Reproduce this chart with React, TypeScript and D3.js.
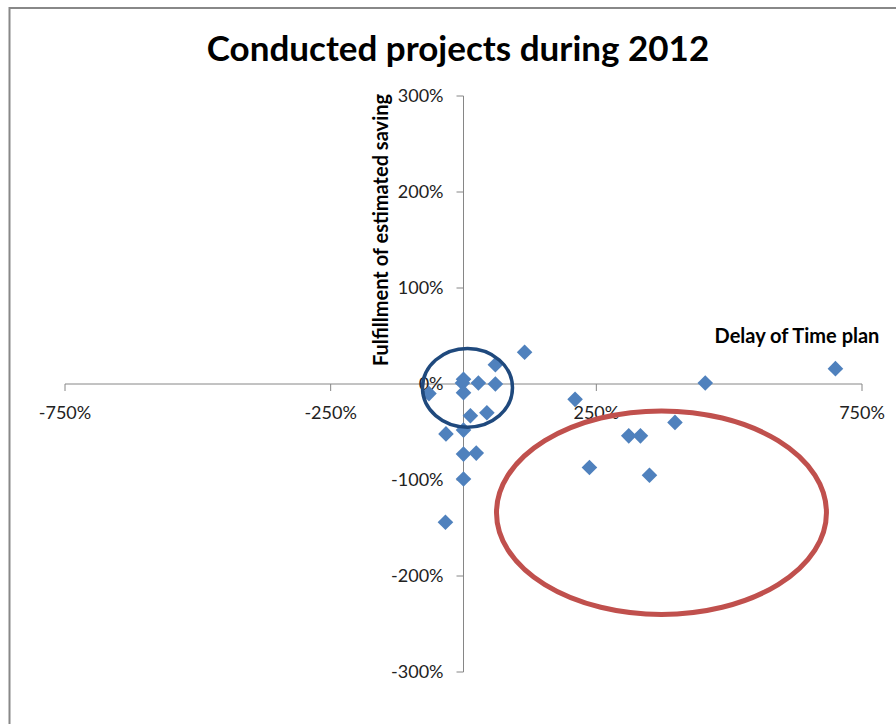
import React from "react";
import * as d3 from "d3";

// Project outcomes: delay of time plan (%) vs fulfillment of estimated saving (%)
const delayOfTimePlan = [115, 60, 0, -2, 28, 60, -65, 13, 44, -33, 0, 0, 24, 0, -34, 210, 455, 398, 311, 333, 237, 350, 700, 0];
const savingFulfillment = [33, 20, 5, 1, 1, 0, -10, -33, -30, -52, -48, -73, -72, -99, -144, -16, 1, -40, -54, -54, -87, -95, 16, -9];

const xTicks = [-750, -250, 250, 750];
const yTicks = [300, 200, 100, 0, -100, -200, -300];

// Highlight rings, in data units
const ringCx = [7.5, 372.6];
const ringCy = [-4, -134];
const ringRx = [84.7, 310.5];
const ringRy = [41, 106];
const ringColor = ["#1F497D", "#C0504D"];
const ringWidth = [3.5, 5];

const W = 896;
const H = 724;
const FONT = "Lato, 'Open Sans', sans-serif";

export default function App() {
  const x = d3.scaleLinear().domain([-750, 750]).range([65, 862]);
  const y = d3.scaleLinear().domain([-300, 300]).range([672, 96]);
  const x0 = x(0);
  const y0 = y(0);
  const axisColor = "#868686";
  const pct = (v: number) => `${v}%`;
  const diamond = d3.symbol().type(d3.symbolDiamond2).size(155);

  const points = delayOfTimePlan.map((d, i) => ({ dx: d, sy: savingFulfillment[i] }));

  return (
    <svg
      width={W}
      height={H}
      style={{ position: "absolute", left: 0, top: 0, background: "#fff" }}
      fontFamily={FONT}
    >
      <rect x={0} y={0} width={W} height={H} fill="#fff" />
      {/* chart frame */}
      <path d={`M9.5,${H} V8 H${W}`} fill="none" stroke="#888" strokeWidth={2} />

      <text x={458} y={61} textAnchor="middle" fontSize={35} fontWeight={700} fill="#000">
        Conducted projects during 2012
      </text>

      {/* x axis */}
      <line x1={x(-750)} x2={x(750)} y1={y0} y2={y0} stroke={axisColor} strokeWidth={1} />
      {xTicks.map((t) => (
        <g key={`xt${t}`}>
          <line x1={x(t)} x2={x(t)} y1={y0} y2={y0 + 7} stroke={axisColor} />
          <text x={x(t)} y={y0 + 35} textAnchor="middle" fontSize={18} fill="#222">
            {pct(t)}
          </text>
        </g>
      ))}

      {/* y axis */}
      <line x1={x0} x2={x0} y1={y(300)} y2={y(-300)} stroke={axisColor} strokeWidth={1} />
      {yTicks.map((t) => (
        <g key={`yt${t}`}>
          <line x1={x0 - 7} x2={x0} y1={y(t)} y2={y(t)} stroke={axisColor} />
          <text x={x0 - 20} y={y(t)} dy="0.35em" textAnchor="end" fontSize={18} fill="#222">
            {pct(t)}
          </text>
        </g>
      ))}

      <text
        transform={`translate(388,230) rotate(-90)`}
        textAnchor="middle"
        fontSize={20}
        fontWeight={700}
        fill="#000"
      >
        Fulfillment of estimated saving
      </text>
      <text x={797} y={343} textAnchor="middle" fontSize={20} fontWeight={700} fill="#000">
        Delay of Time plan
      </text>

      {/* project markers */}
      {points.map((p, i) => (
        <path
          key={`p${i}`}
          d={diamond() as string}
          transform={`translate(${x(p.dx)},${y(p.sy)})`}
          fill="#4F81BD"
        />
      ))}

      {/* highlight rings */}
      {ringCx.map((cx, i) => (
        <ellipse
          key={`r${i}`}
          cx={x(cx)}
          cy={y(ringCy[i])}
          rx={x(ringRx[i]) - x(0)}
          ry={y(0) - y(ringRy[i])}
          fill="none"
          stroke={ringColor[i]}
          strokeWidth={ringWidth[i]}
        />
      ))}
    </svg>
  );
}
